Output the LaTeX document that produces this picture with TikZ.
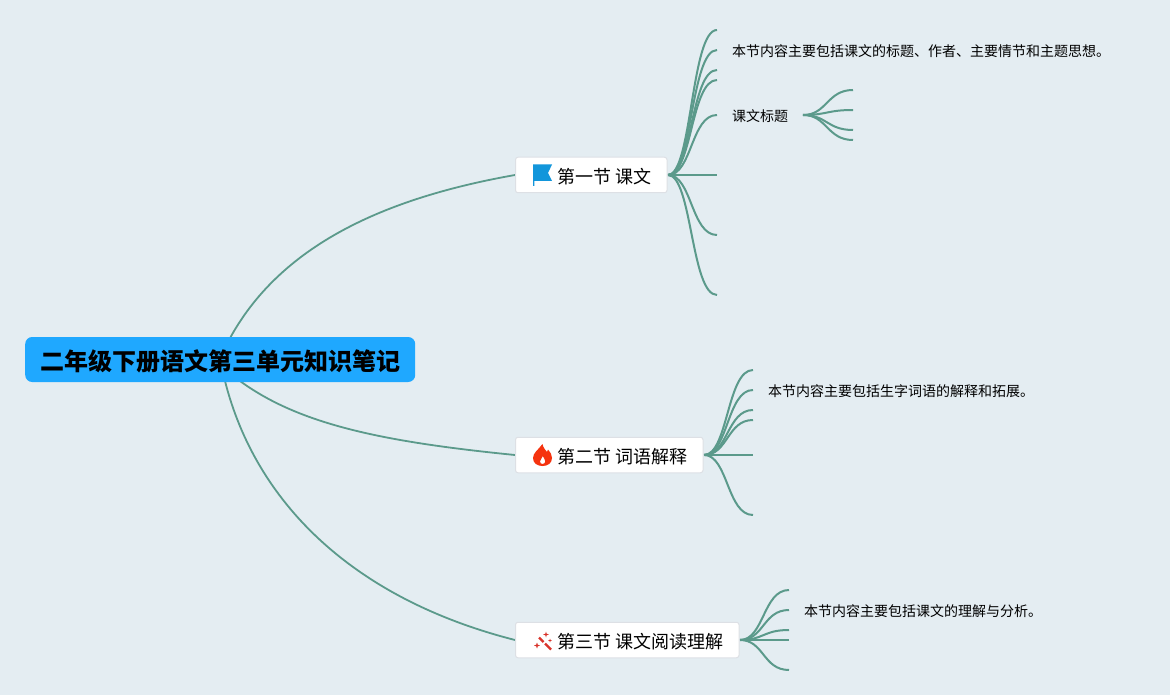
\documentclass[tikz,border=0pt]{standalone}
\usepackage{fontspec}
\setmainfont{Noto Sans CJK SC}
\definecolor{bgc}{HTML}{E4EDF2}
\definecolor{linkc}{HTML}{5B9A8B}
\definecolor{rootc}{HTML}{1FA8FF}
\definecolor{boxb}{HTML}{DDE0E5}
\definecolor{flagc}{HTML}{1296DB}
\definecolor{flamec}{HTML}{F5330F}
\definecolor{wandc}{HTML}{D9342B}
\newcommand{\lowertext}[2]{\raisebox{-#1}[\height][\depth]{#2}}
\tikzset{
  rootbox/.style={fill=rootc,rounded corners=7pt,inner sep=0pt,minimum width=390pt,minimum height=45pt,anchor=west,font=\bfseries\fontsize{24pt}{28pt}\selectfont,text=black},
  topicbox/.style={fill=white,draw=boxb,line width=1pt,rounded corners=2.5pt,inner xsep=0pt,inner ysep=0pt,minimum height=35.5pt,anchor=west,font=\fontsize{18pt}{22pt}\selectfont,text=black},
  leaftext/.style={anchor=west,inner sep=0pt,font=\fontsize{14pt}{17pt}\selectfont,text=black},
  link/.style={draw=linkc,line width=1.8pt},
  branch/.style={draw=linkc,line width=2pt}
}
\newcommand{\fan}[4]{% start coord, end x, y list, tag
  \foreach \yy [count=\ii] in {#3} {
    \coordinate (#4e\ii) at (#2,\yy);
    \draw[branch] (#1) .. controls ($(#1)+(24,0)$) and ($(#4e\ii)+(-26,0)$) .. (#4e\ii);
  }
}
\usetikzlibrary{calc}
\begin{document}
\begin{tikzpicture}[x=1pt,y=-1pt]
\useasboundingbox (0,0) rectangle (1170,695);
\fill[bgc] (0,0) rectangle (1170,695);

% connectors from the root
\coordinate (r1) at (229,340);
\coordinate (r2) at (240,381);
\coordinate (r3) at (225,381);
\coordinate (t1w) at (515,175);
\coordinate (t2w) at (515,455);
\coordinate (t3w) at (515,640);
\draw[link] (r1) .. controls (280,245) and (385,198) .. (t1w);
\draw[link] (r2) .. controls (300,425) and (385,442) .. (t2w);
\draw[link] (r3) .. controls (255,500) and (350,598) .. (t3w);

% branch fans
\coordinate (s1) at (668,175);
\coordinate (s2) at (704,455);
\coordinate (s3) at (740,640);
\coordinate (s4) at (803,115);
\fan{s1}{717}{30,50,70,80,115,175,235,295}{a}
\fan{s2}{753}{370,390,410,420,455,515}{b}
\fan{s3}{789}{590,610,630,640,670}{c}
\fan{s4}{853}{90,110,130,140}{d}

% nodes
\node[rootbox] (root) at (25,359.5) {\lowertext{2pt}{二年级下册语文第三单元知识笔记}};
\node[topicbox] (n1) at (515,175) {\makebox[151.5pt][l]{\hspace{42pt}\lowertext{1.5pt}{第一节 课文}}};
\node[topicbox] (n2) at (515,455) {\makebox[187.5pt][l]{\hspace{42pt}\lowertext{1.5pt}{第二节 词语解释}}};
\node[topicbox] (n3) at (515,640) {\makebox[223.5pt][l]{\hspace{42pt}\lowertext{1.5pt}{第三节 课文阅读理解}}};
\node[leaftext] (l1) at (732,51.5) {本节内容主要包括课文的标题、作者、主要情节和主题思想。};
\node[leaftext] (l2) at (732,116.5) {课文标题};
\node[leaftext] (l3) at (768,391.5) {本节内容主要包括生字词语的解释和拓展。};
\node[leaftext] (l4) at (804,611.5) {本节内容主要包括课文的理解与分析。};

% flag icon
\fill[flagc] (533,164.5) -- (552,164.5) -- (548,173) -- (552,181) -- (534.3,181) -- (534.3,186) -- (533,186) -- cycle;
% flame icon
\fill[flamec,even odd rule] (542.5,444) .. controls (543.5,449) and (546,450) .. (547,452)
  .. controls (547.8,451.5) and (548.2,450.5) .. (548,449.5)
  .. controls (550.5,452) and (552,455) .. (552,458)
  .. controls (552,463) and (548,466) .. (542.5,466)
  .. controls (537,466) and (533,463) .. (533,458)
  .. controls (533,453) and (538,450) .. (542.5,444) -- cycle
  (542.8,456) .. controls (542.5,458) and (540,459.5) .. (540,461.5)
  .. controls (540,463) and (541.2,464) .. (542.5,464)
  .. controls (544,464) and (545.3,463) .. (545.3,461.3)
  .. controls (545.3,459.5) and (543.5,458) .. (542.8,456) -- cycle;
% wand icon
\draw[wandc,line width=2.2pt] (539,637.5) -- (543.5,642);
\draw[wandc,line width=2.2pt] (545,643.5) -- (551,649.5);
\fill[wandc] (546,631.5) -- (546.7,633.8) -- (549,634.5) -- (546.7,635.2) -- (546,637.5) -- (545.3,635.2) -- (543,634.5) -- (545.3,633.8) -- cycle;
\fill[wandc] (537,642.5) -- (537.8,644.7) -- (540,645.5) -- (537.8,646.3) -- (537,648.5) -- (536.2,646.3) -- (534,645.5) -- (536.2,644.7) -- cycle;
\fill[wandc] (550,638.5) -- (550.5,640) -- (552,640.5) -- (550.5,641) -- (550,642.5) -- (549.5,641) -- (548,640.5) -- (549.5,640) -- cycle;
\end{tikzpicture}
\end{document}
